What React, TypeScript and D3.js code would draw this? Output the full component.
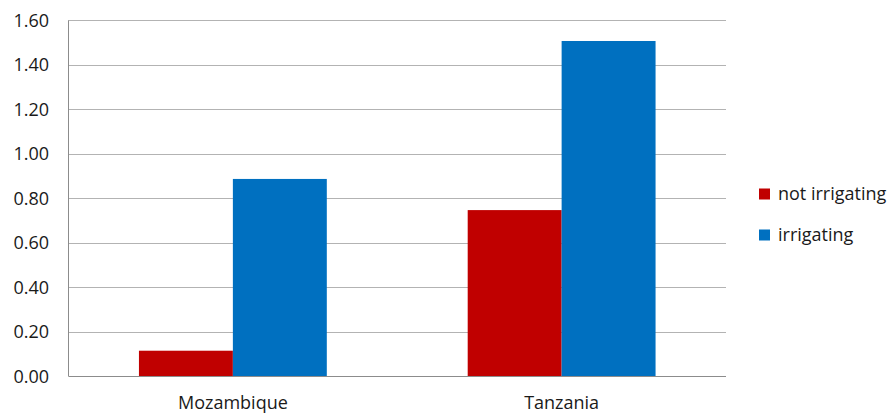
import React from "react";
import * as d3 from "d3";

const categories = ["Mozambique", "Tanzania"];
const seriesNames = ["not irrigating", "irrigating"];
const notIrrigating = [0.115, 0.747];
const irrigating = [0.887, 1.507];
const yTicks = [0, 0.2, 0.4, 0.6, 0.8, 1.0, 1.2, 1.4, 1.6];
const seriesColors = ["#C00000", "#0070C0"];

const W = 892;
const H = 414;
const plot = { left: 68.5, right: 726, top: 20.3, bottom: 376.3 };
const FONT = "'Open Sans', sans-serif";

export default function App() {
  const x = d3
    .scaleBand<string>()
    .domain(categories)
    .range([plot.left, plot.right])
    .paddingInner(0)
    .paddingOuter(0);
  const inner = d3
    .scaleBand<string>()
    .domain(seriesNames)
    .range([0, x.bandwidth()])
    .paddingInner(0)
    .paddingOuter(0.75);
  const y = d3.scaleLinear().domain([0, 1.6]).range([plot.bottom, plot.top]);
  const series = [notIrrigating, irrigating];
  const fmt = d3.format(".2f");

  return (
    <svg
      width={W}
      height={H}
      style={{ position: "absolute", left: 0, top: 0, background: "#fff" }}
      fontFamily={FONT}
    >
      {yTicks.map((t) => (
        <g key={t}>
          {t > 0 && (
            <line
              x1={plot.left}
              x2={plot.right}
              y1={Math.round(y(t)) + 0.5}
              y2={Math.round(y(t)) + 0.5}
              stroke="#b3b3b3"
              strokeWidth={1}
            />
          )}
          <text
            x={49}
            y={y(t) + 6.5}
            textAnchor="end"
            fontSize={18}
            fill="#1a1a1a"
          >
            {fmt(t)}
          </text>
        </g>
      ))}

      {categories.map((c, ci) =>
        seriesNames.map((s, si) => {
          const v = series[si][ci];
          return (
            <rect
              key={c + s}
              x={(x(c) ?? 0) + (inner(s) ?? 0)}
              y={y(v)}
              width={inner.bandwidth()}
              height={y(0) - y(v)}
              fill={seriesColors[si]}
            />
          );
        })
      )}

      {/* axis lines */}
      <line
        x1={plot.left}
        x2={plot.left}
        y1={plot.top}
        y2={plot.bottom}
        stroke="#8c8c8c"
        strokeWidth={1}
      />
      <line
        x1={plot.left}
        x2={plot.right}
        y1={Math.round(plot.bottom) + 0.5}
        y2={Math.round(plot.bottom) + 0.5}
        stroke="#8c8c8c"
        strokeWidth={1}
      />

      {categories.map((c) => (
        <text
          key={c}
          x={(x(c) ?? 0) + x.bandwidth() / 2}
          y={408.5}
          textAnchor="middle"
          fontSize={18}
          fill="#1a1a1a"
        >
          {c}
        </text>
      ))}

      {seriesNames.map((s, i) => (
        <g key={s} transform={`translate(759, ${188.5 + i * 41})`}>
          <rect width={11} height={11} fill={seriesColors[i]} />
          <text x={19} y={11.5} fontSize={18} fill="#1a1a1a">
            {s}
          </text>
        </g>
      ))}
    </svg>
  );
}
